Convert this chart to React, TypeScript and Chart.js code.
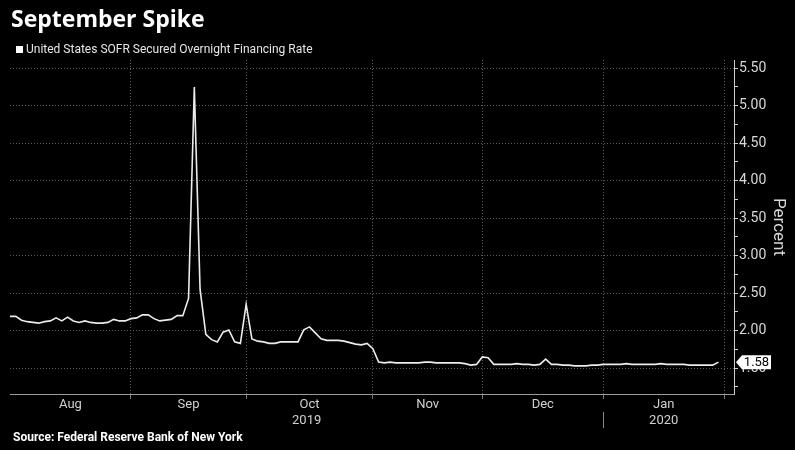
import React, { useEffect, useRef } from "react";
import { Chart, registerables } from "chart.js";

Chart.register(...registerables);

// ---- text ----
const chartTitle = "September Spike";
const seriesName = "United States SOFR Secured Overnight Financing Rate";
const sourceText = "Source: Federal Reserve Bank of New York";
const axisTitle = "Percent";

// ---- x categories: business-day index of month boundaries ----
const monthLabels = ["Aug", "Sep", "Oct", "Nov", "Dec", "Jan"];
const monthEdges = [0, 21, 41, 63, 82, 103, 124];
const yearLabels = ["2019", "2020"];
const yearEdges = [0, 103, 124];

// ---- y ticks ----
const yTicks = [1.25, 1.5, 1.75, 2.0, 2.25, 2.5, 2.75, 3.0, 3.25, 3.5, 3.75, 4.0, 4.25, 4.5, 4.75, 5.0, 5.25, 5.5];

// ---- series: SOFR (%) per business day, Aug 2019 - Jan 2020 ----
const sofr = [
  2.19, 2.19, 2.14, 2.12, 2.11, 2.10, 2.12, 2.13, 2.17, 2.13,
  2.18, 2.13, 2.11, 2.13, 2.11, 2.10, 2.10, 2.11, 2.15, 2.13,
  2.13, 2.16, 2.17, 2.21, 2.21, 2.16, 2.13, 2.14, 2.15, 2.20,
  2.20, 2.43, 5.25, 2.55, 1.95, 1.88, 1.85, 1.98, 2.01, 1.85,
  1.83, 2.35, 1.89, 1.86, 1.85, 1.83, 1.83, 1.85, 1.85, 1.85,
  1.85, 2.01, 2.05, 1.97, 1.89, 1.87, 1.87, 1.87, 1.86, 1.84,
  1.82, 1.81, 1.83, 1.76, 1.58, 1.57, 1.58, 1.57, 1.57, 1.57,
  1.57, 1.57, 1.58, 1.58, 1.57, 1.57, 1.57, 1.57, 1.57, 1.56,
  1.54, 1.55, 1.65, 1.64, 1.55, 1.55, 1.55, 1.55, 1.56, 1.55,
  1.55, 1.54, 1.55, 1.62, 1.55, 1.55, 1.54, 1.54, 1.53, 1.53,
  1.53, 1.54, 1.54, 1.55, 1.55, 1.55, 1.55, 1.56, 1.55, 1.55,
  1.55, 1.55, 1.55, 1.56, 1.55, 1.55, 1.55, 1.55, 1.54, 1.54,
  1.54, 1.54, 1.54, 1.58,
];

const FONT = "Roboto, 'Noto Sans', sans-serif";
const TITLE_FONT = "'Open Sans', 'Noto Sans', sans-serif";

const isMajor = (v: number) => Math.abs(v * 2 - Math.round(v * 2)) < 1e-6;

const decorPlugin = {
  id: "decor",
  afterDraw(chart: any) {
    const ctx = chart.ctx as CanvasRenderingContext2D;
    const xs = chart.scales.x;
    const ys = chart.scales.y;
    const area = chart.chartArea;
    ctx.save();
    // title
    ctx.fillStyle = "#ffffff";
    ctx.textAlign = "left";
    ctx.textBaseline = "alphabetic";
    ctx.font = `bold 23px ${TITLE_FONT}`;
    ctx.fillText(chartTitle, 11, 27);
    // legend
    ctx.fillStyle = "#ffffff";
    ctx.fillRect(16, 46, 7, 7);
    ctx.fillStyle = "#e6e6e6";
    ctx.font = `12px ${FONT}`;
    ctx.fillText(seriesName, 26, 53);
    // source
    ctx.fillStyle = "#ffffff";
    ctx.font = `bold 12px ${FONT}`;
    ctx.fillText(sourceText, 13, 441);

    // month labels
    ctx.fillStyle = "#d0d0d0";
    ctx.font = `13px ${FONT}`;
    ctx.textAlign = "center";
    for (let i = 0; i < monthLabels.length; i++) {
      const mid = (monthEdges[i] + monthEdges[i + 1]) / 2;
      ctx.fillText(monthLabels[i], xs.getPixelForValue(mid), area.bottom + 14);
    }
    for (let i = 0; i < yearLabels.length; i++) {
      const mid = (yearEdges[i] + yearEdges[i + 1]) / 2;
      ctx.fillText(yearLabels[i], xs.getPixelForValue(mid), area.bottom + 30);
    }
    // year separator
    ctx.strokeStyle = "#888";
    ctx.lineWidth = 1;
    for (let i = 1; i < yearEdges.length - 1; i++) {
      const px = Math.round(xs.getPixelForValue(yearEdges[i])) + 0.5;
      ctx.beginPath();
      ctx.moveTo(px, area.bottom + 18);
      ctx.lineTo(px, area.bottom + 34);
      ctx.stroke();
    }

    // axis title (rotated, reads top to bottom)
    ctx.save();
    ctx.translate(778, (area.top + area.bottom) / 2);
    ctx.rotate(Math.PI / 2);
    ctx.fillStyle = "#d8d8d8";
    ctx.font = `17px ${FONT}`;
    ctx.textAlign = "center";
    ctx.textBaseline = "middle";
    ctx.fillText(axisTitle, 0, 0);
    ctx.restore();

    // last value tag
    const last = sofr[sofr.length - 1];
    const py = ys.getPixelForValue(last);
    const lx = area.right + 2;
    ctx.fillStyle = "#ffffff";
    ctx.beginPath();
    ctx.moveTo(lx, py);
    ctx.lineTo(lx + 6, py - 7);
    ctx.lineTo(lx + 35, py - 7);
    ctx.lineTo(lx + 35, py + 7);
    ctx.lineTo(lx + 6, py + 7);
    ctx.closePath();
    ctx.fill();
    ctx.fillStyle = "#000000";
    ctx.font = `13px ${FONT}`;
    ctx.textAlign = "center";
    ctx.textBaseline = "middle";
    ctx.fillText(last.toFixed(2), lx + 20.5, py + 0.5);
    ctx.restore();
  },
};

export default function App() {
  const ref = useRef<HTMLCanvasElement | null>(null);
  useEffect(() => {
    if (!ref.current) return;
    const chart = new Chart(ref.current, {
      type: "line",
      data: {
        datasets: [
          {
            label: seriesName,
            data: sofr.map((v, i) => ({ x: i, y: v })),
            borderColor: "#ececec",
            borderWidth: 1.6,
            pointRadius: 0,
            tension: 0,
            fill: false,
          },
        ],
      },
      options: {
        animation: false,
        responsive: false,
        maintainAspectRatio: false,
        layout: { padding: { top: 60, left: 10, bottom: 51, right: 0 } },
        plugins: { legend: { display: false }, tooltip: { enabled: false } },
        scales: {
          x: {
            type: "linear",
            min: 0,
            max: 125.7,
            afterBuildTicks: (s: any) => {
              s.ticks = monthEdges.slice(1).map((v) => ({ value: v }));
            },
            ticks: { display: false },
            grid: { color: "#5a5a5a", lineWidth: 1, tickLength: 5, tickColor: "#777", drawTicks: true },
            border: { display: true, color: "#9a9a9a", dash: [1, 2] },
          },
          y: {
            position: "right",
            min: 1.155,
            max: 5.61,
            afterBuildTicks: (s: any) => {
              s.ticks = yTicks.map((v) => ({ value: v }));
            },
            afterFit: (s: any) => {
              s.width = 61;
            },
            ticks: {
              color: "#d8d8d8",
              font: { size: 14, family: FONT },
              padding: 1,
              autoSkip: false,
              callback: (v: any) => (isMajor(Number(v)) ? Number(v).toFixed(2) : ""),
            },
            grid: {
              color: (c: any) => (c.tick && isMajor(c.tick.value) ? "#5a5a5a" : "rgba(0,0,0,0)"),
              tickColor: "#cfcfcf",
              tickLength: 4,
            },
            border: { display: true, color: "#cfcfcf", dash: [1, 2] },
          },
        },
      },
      plugins: [decorPlugin],
    } as any);
    return () => chart.destroy();
  }, []);
  return (
    <div style={{ position: "fixed", left: 0, top: 0, width: 795, height: 450, background: "#000" }}>
      <canvas ref={ref} width={795} height={450} style={{ display: "block", width: 795, height: 450 }} />
    </div>
  );
}
